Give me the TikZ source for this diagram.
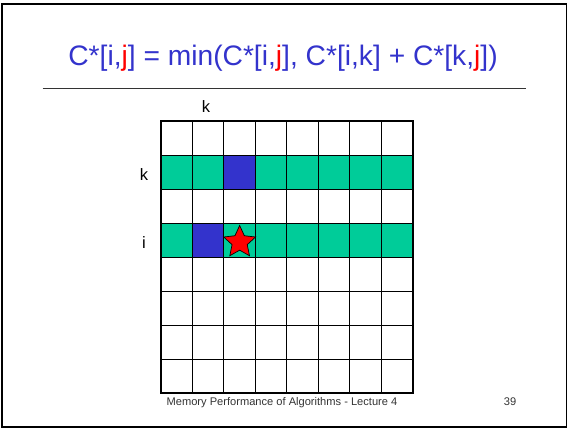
\documentclass[tikz,border=0pt]{standalone}
\usepackage{fontspec}
\setmainfont{Liberation Sans}
\usetikzlibrary{shapes.geometric}
\definecolor{titleblue}{HTML}{3333CC}
\definecolor{cellblue}{HTML}{3333CC}
\definecolor{rowgreen}{HTML}{00CC99}
\definecolor{jred}{HTML}{FF0000}
\tikzset{
  titletext/.style={anchor=base, inner sep=0pt, text=titleblue, font=\fontsize{28.2}{32}\selectfont},
  labeltext/.style={anchor=base, inner sep=0pt, font=\fontsize{16.5}{20}\selectfont},
  foottext/.style={anchor=base, inner sep=0pt, text=black!80, font=\fontsize{11.1}{13}\selectfont},
  redstar/.style={star, star points=5, star point ratio=2.1, fill=red, draw=black, line width=0.7pt, minimum size=33.5pt, inner sep=0pt},
  gridline/.style={line width=0.9pt}
}
\begin{document}
\begin{tikzpicture}[x=1pt,y=-1pt]
\useasboundingbox (0,0) rectangle (568,429);
\draw[line width=1.8pt] (1.8,4) rectangle (566.5,427.2);
\node[titletext] (title) at (283,65) {C*[i,\textcolor{jred}{j}] = min(C*[i,\textcolor{jred}{j}], C*[i,k] + C*[k,\textcolor{jred}{j}])};
\draw[line width=1.4pt, black!80] (42.7,88.3) -- (526,88.3);
\begin{scope}[shift={(161,121)}, x=31.46pt, y=-34.04pt]
  \fill[rowgreen] (0,1) rectangle (8,2);
  \fill[rowgreen] (0,3) rectangle (8,4);
  \fill[cellblue] (2,1) rectangle (3,2);
  \fill[cellblue] (1,3) rectangle (2,4);
  \foreach \c in {1,...,7} {
    \draw[gridline] (\c,0) -- (\c,8);
    \draw[gridline] (0,\c) -- (8,\c);
  }
  \draw[line width=1.8pt] (0,0) rectangle (8,8);
  \node[redstar] (star) at (2.5,3.56) {};
\end{scope}
\node[labeltext] (ktop) at (206,112) {k};
\node[labeltext] (kleft) at (144,180.7) {k};
\node[labeltext] (ileft) at (144,248.3) {i};
\node[foottext] (footer) at (282,405) {Memory Performance of Algorithms - Lecture 4};
\node[foottext] (pagenum) at (510,405) {39};
\end{tikzpicture}
\end{document}
